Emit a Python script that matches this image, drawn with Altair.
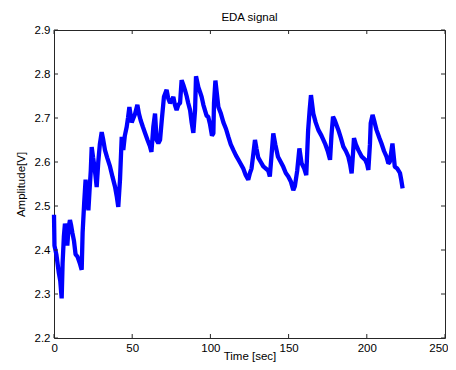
import altair as alt
import pandas as pd

time_sec = [0.0, 0.3, 1.5, 3.0, 4.0, 4.9, 5.5, 6.3, 7.0, 7.8, 8.5, 9.3, 10.2, 11.0, 11.7, 12.8, 13.8,
            15.0, 16.5, 17.7, 18.3, 19.3, 20.2, 21.0, 22.0, 22.8, 23.5, 24.1, 25.0, 25.8, 26.5, 27.3,
            28.3, 29.3, 30.5, 31.5, 32.6, 34.0, 35.8, 37.5, 39.0, 40.2, 41.1, 42.2, 43.3, 44.3, 45.3,
            46.5, 47.3, 48.2, 49.7, 50.8, 51.9, 53.3, 54.3, 55.4, 56.8, 58.2, 59.8, 61.4, 62.3, 63.5,
            64.6, 65.6, 66.7, 67.8, 68.9, 70.3, 72.0, 73.0, 74.2, 75.3, 76.3, 77.3, 78.4, 79.5, 80.6,
            81.6, 82.7, 83.7, 84.8, 85.8, 87.0, 88.0, 89.1, 90.2, 90.8, 92.3, 93.3, 94.4, 95.5, 96.5,
            97.6, 98.6, 99.8, 101.0, 101.9, 102.3, 103.2, 105.1, 106.7, 108.3, 110.0, 111.5, 113.0,
            114.7, 116.3, 117.9, 119.5, 121.0, 122.6, 124.2, 125.3, 126.3, 127.5, 128.5, 129.5, 130.6,
            132.2, 133.8, 135.5, 137.0, 138.0, 139.2, 140.2, 141.5, 143.2, 145.0, 146.6, 148.2, 149.8,
            151.5, 153.0, 154.0, 155.5, 156.9, 158.3, 160.0, 161.3, 162.5, 163.5, 164.3, 165.8, 167.3,
            169.0, 171.0, 173.3, 175.0, 176.5, 177.4, 178.4, 179.5, 181.8, 183.4, 185.0, 186.6, 188.2,
            189.3, 190.3, 191.2, 191.8, 193.0, 194.6, 196.8, 199.0, 200.2, 201.0, 202.0, 202.5, 203.7,
            205.0, 206.2, 208.0, 209.4, 211.0, 212.6, 213.8, 214.7, 216.4, 217.9, 219.5, 221.2, 222.0,
            222.9]
amplitude_v = [2.48, 2.41, 2.39, 2.35, 2.33, 2.29, 2.37, 2.43, 2.46, 2.44, 2.41, 2.45, 2.468, 2.455, 2.44,
               2.42, 2.39, 2.385, 2.37, 2.355, 2.44, 2.507, 2.56, 2.53, 2.49, 2.54, 2.58, 2.634, 2.61,
               2.59, 2.57, 2.543, 2.60, 2.64, 2.668, 2.65, 2.627, 2.61, 2.59, 2.565, 2.544, 2.52, 2.498,
               2.56, 2.657, 2.627, 2.66, 2.68, 2.70, 2.725, 2.69, 2.70, 2.71, 2.73, 2.71, 2.695, 2.68,
               2.666, 2.65, 2.635, 2.623, 2.68, 2.71, 2.65, 2.643, 2.65, 2.695, 2.748, 2.764, 2.745,
               2.734, 2.74, 2.748, 2.73, 2.718, 2.73, 2.734, 2.786, 2.775, 2.764, 2.75, 2.734, 2.718,
               2.69, 2.666, 2.718, 2.795, 2.77, 2.76, 2.748, 2.73, 2.718, 2.705, 2.703, 2.685, 2.66,
               2.665, 2.734, 2.785, 2.725, 2.71, 2.69, 2.675, 2.657, 2.64, 2.627, 2.615, 2.605, 2.595,
               2.585, 2.57, 2.56, 2.575, 2.585, 2.62, 2.65, 2.63, 2.61, 2.60, 2.59, 2.585, 2.58, 2.567,
               2.62, 2.665, 2.64, 2.612, 2.60, 2.589, 2.575, 2.567, 2.555, 2.536, 2.545, 2.58, 2.631,
               2.597, 2.585, 2.57, 2.673, 2.72, 2.752, 2.71, 2.69, 2.673, 2.66, 2.642, 2.625, 2.605,
               2.66, 2.703, 2.695, 2.673, 2.655, 2.635, 2.625, 2.612, 2.595, 2.574, 2.62, 2.654, 2.64,
               2.627, 2.612, 2.605, 2.595, 2.582, 2.64, 2.688, 2.707, 2.69, 2.673, 2.655, 2.642, 2.625,
               2.612, 2.597, 2.60, 2.642, 2.589, 2.585, 2.575, 2.56, 2.54]

x_ticks = [0, 50, 100, 150, 200, 250]
y_ticks = [2.2, 2.3, 2.4, 2.5, 2.6, 2.7, 2.8, 2.9]

W, H = 391, 308
FONT = "Liberation Sans"
AX = "#262626"

sig = pd.DataFrame({"t": time_sec, "v": amplitude_v})
xt = pd.DataFrame({"t": x_ticks})
yt = pd.DataFrame({"v": y_ticks})

xscale = alt.Scale(domain=[0, 250], nice=False, zero=False)
yscale = alt.Scale(domain=[2.2, 2.9], nice=False, zero=False)

line = alt.Chart(sig).mark_line(color="#0000FF", strokeWidth=4.3, strokeJoin="bevel").encode(
    x=alt.X("t:Q", scale=xscale,
            axis=alt.Axis(values=x_ticks, title="Time [sec]", ticks=False, domain=False, grid=False,
                          labelPadding=4, titleY=23, titleBaseline="bottom", format="d",
                          labelFlush=True, labelFlushOffset=3)),
    y=alt.Y("v:Q", scale=yscale,
            axis=alt.Axis(values=y_ticks, title="Amplitude[V]", ticks=False, domain=False, grid=False,
                          labelPadding=4, titlePadding=8, format=".1f")),
)

tick_len = 4
bottom = alt.Chart(xt).mark_rule(color=AX, strokeWidth=1).encode(
    x=alt.X("t:Q", scale=xscale), y=alt.value(H), y2=alt.value(H - tick_len))
top = alt.Chart(xt).mark_rule(color=AX, strokeWidth=1).encode(
    x=alt.X("t:Q", scale=xscale), y=alt.value(0), y2=alt.value(tick_len))
left = alt.Chart(yt).mark_rule(color=AX, strokeWidth=1).encode(
    y=alt.Y("v:Q", scale=yscale), x=alt.value(0), x2=alt.value(tick_len))
right = alt.Chart(yt).mark_rule(color=AX, strokeWidth=1).encode(
    y=alt.Y("v:Q", scale=yscale), x=alt.value(W), x2=alt.value(W - tick_len))

chart = alt.layer(line, bottom, top, left, right).properties(
    width=W, height=H,
    title=alt.TitleParams("EDA signal", font=FONT, fontSize=11.5, fontWeight="normal", color="#000000",
                          anchor="middle", offset=1),
    padding={"left": 46, "top": 22, "right": 3, "bottom": 24},
    autosize=alt.AutoSizeParams(type="none"),
).configure_view(
    stroke=AX, strokeWidth=1
).configure_axis(
    labelFont=FONT, labelFontSize=11.5, labelColor="#000000",
    titleFont=FONT, titleFontSize=11.5, titleColor="#000000", titleFontWeight="normal",
)

chart.save("out.html", embed_options={"renderer": "svg", "actions": False})
